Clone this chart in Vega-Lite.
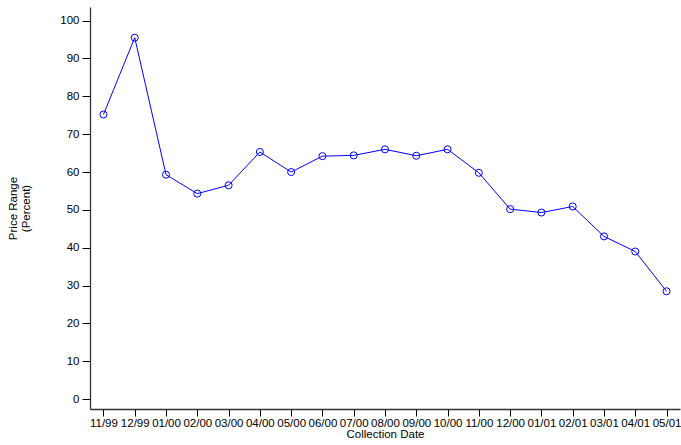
{
  "$schema": "https://vega.github.io/schema/vega-lite/v6.json",
  "width": 590,
  "height": 402,
  "autosize": "none",
  "padding": {"left": 90, "top": 7, "right": 1, "bottom": 36},
  "background": "white",
  "config": {
    "view": {"stroke": null},
    "font": "Liberation Sans",
    "axis": {
      "domainColor": "#333333",
      "domainWidth": 1.3,
      "tickColor": "black",
      "labelColor": "black",
      "titleColor": "black",
      "labelFont": "Liberation Sans",
      "titleFont": "Liberation Sans",
      "labelFontSize": 11.5,
      "titleFontSize": 11.5,
      "titleFontWeight": "normal",
      "grid": false,
      "tickSize": 7
    }
  },
  "data": {
    "values": [
      {"date": "11/99", "value": 75.2},
      {"date": "12/99", "value": 95.5},
      {"date": "01/00", "value": 59.3},
      {"date": "02/00", "value": 54.3},
      {"date": "03/00", "value": 56.5},
      {"date": "04/00", "value": 65.3},
      {"date": "05/00", "value": 60.0},
      {"date": "06/00", "value": 64.2},
      {"date": "07/00", "value": 64.4},
      {"date": "08/00", "value": 66.0},
      {"date": "09/00", "value": 64.3},
      {"date": "10/00", "value": 66.0},
      {"date": "11/00", "value": 59.8},
      {"date": "12/00", "value": 50.2},
      {"date": "01/01", "value": 49.3},
      {"date": "02/01", "value": 50.9},
      {"date": "03/01", "value": 43.0},
      {"date": "04/01", "value": 39.0},
      {"date": "05/01", "value": 28.5}
    ]
  },
  "mark": {
    "type": "line",
    "color": "#0000ff",
    "strokeWidth": 1,
    "point": {"filled": false, "color": "#0000ff", "size": 50, "strokeWidth": 1}
  },
  "encoding": {
    "x": {
      "field": "date",
      "type": "ordinal",
      "sort": null,
      "scale": {"type": "point", "padding": 0.43},
      "axis": {"title": "Collection Date", "labelAngle": 0, "labelPadding": 1, "titlePadding": 0}
    },
    "y": {
      "field": "value",
      "type": "quantitative",
      "scale": {"domain": [-2.6, 103.6], "nice": false, "zero": false},
      "axis": {"title": ["Price Range", "(Percent)"], "values": [0,10,20,30,40,50,60,70,80,90,100], "titlePadding": 28, "labelPadding": 3, "tickSize": 8}
    }
  }
}
